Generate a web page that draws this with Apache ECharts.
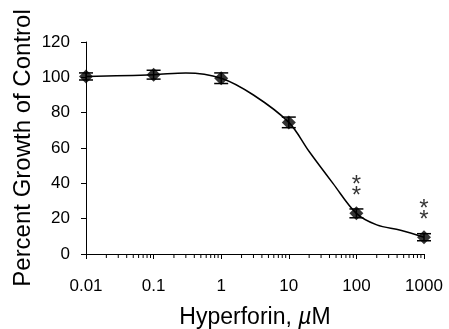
<!DOCTYPE html>
<html>
<head>
<meta charset="utf-8">
<script src="https://cdn.jsdelivr.net/npm/echarts@6/dist/echarts.min.js"></script>
<style>
  html, body {margin: 0; padding: 0; background: #fff;}
  #chart {width: 449px; height: 329px;}
</style>
</head>
<body>
<div id="chart"></div>
<script>
// measured points (mean +/- error)
const conc = [0.01, 0.1, 1, 10, 100, 1000];
const growth = [100.5, 101.5, 99.5, 74.5, 23, 9.5];
const errs = [2, 2.5, 3, 3, 2.5, 2];

// fitted curve
const fitConc = [0.01, 0.1, 0.3, 1, 3, 10, 20, 45, 100, 200, 450, 1000];
const fitGrowth = [100.5, 101.5, 102.5, 99.5, 90, 74.5, 58, 40, 23, 16.5, 13.5, 9.5];

// significance marks
const starConc = [100, 1000];
const starY = [36, 22];

const yTicks = [0, 20, 40, 60, 80, 100, 120];
const decades = [0.01, 0.1, 1, 10, 100];
const minorMult = [2, 3, 4, 5, 6, 7, 8, 9];

const FONT = '"Liberation Sans", Arial, sans-serif';

let minorTicks = [];
decades.forEach(d => minorMult.forEach(m => minorTicks.push([+(d * m).toPrecision(3), 0])));

const chart = echarts.init(document.getElementById('chart'), null, {renderer: 'canvas'});

chart.setOption({
  animation: false,
  backgroundColor: '#fff',
  grid: {left: 86, right: 25, top: 42, bottom: 75, containLabel: false, outerBoundsMode: 'none'},
  xAxis: {
    type: 'log',
    logBase: 10,
    min: 0.01,
    max: 1000,
    name: '{a|Hyperforin, }{b|µ}{a|M}',
    nameLocation: 'middle',
    nameGap: 52,
    nameMoveOverlap: false,
    nameTextStyle: {
      rich: {
        a: {fontFamily: FONT, fontSize: 23, color: '#000'},
        b: {fontFamily: FONT, fontSize: 23, color: '#000', fontStyle: 'italic'}
      }
    },
    axisLine: {lineStyle: {color: '#000', width: 1}},
    axisTick: {show: true, length: 5, inside: false, lineStyle: {color: '#000'}},
    axisLabel: {
      color: '#000', fontFamily: FONT, fontSize: 17, margin: 24,
      formatter: v => String(+v.toPrecision(3))
    },
    splitLine: {show: false}
  },
  yAxis: {
    type: 'value',
    min: 0,
    max: 120,
    interval: 20,
    name: 'Percent Growth of Control',
    nameLocation: 'middle',
    nameGap: 51,
    nameMoveOverlap: false,
    nameTextStyle: {fontFamily: FONT, fontSize: 24, color: '#000'},
    axisLine: {show: true, lineStyle: {color: '#000', width: 1}},
    axisTick: {show: true, length: 5, lineStyle: {color: '#000'}},
    axisLabel: {
      color: '#000', fontFamily: FONT, fontSize: 17, margin: 16,
      formatter: v => yTicks.includes(v) ? String(v) : ''
    },
    splitLine: {show: false}
  },
  series: [
    {
      // minor log ticks under the x axis
      type: 'custom',
      silent: true,
      data: minorTicks,
      renderItem: (params, api) => {
        const p = api.coord([api.value(0), 0]);
        return {
          type: 'line',
          shape: {x1: p[0], y1: p[1], x2: p[0], y2: p[1] + 4},
          style: {stroke: '#000', lineWidth: 1}
        };
      }
    },
    {
      type: 'line',
      data: fitConc.map((c, i) => [c, fitGrowth[i]]),
      smooth: 0.35,
      showSymbol: false,
      lineStyle: {color: '#000', width: 1.5},
      z: 2
    },
    {
      type: 'custom',
      data: conc.map((c, i) => [c, growth[i], errs[i]]),
      renderItem: (params, api) => {
        const x = api.value(0), y = api.value(1), e = api.value(2);
        const top = api.coord([x, y + e]);
        const bot = api.coord([x, y - e]);
        const w = 7;
        const st = {stroke: '#000', lineWidth: 1.5};
        return {
          type: 'group',
          children: [
            {type: 'line', shape: {x1: top[0], y1: top[1], x2: bot[0], y2: bot[1]}, style: st},
            {type: 'line', shape: {x1: top[0] - w, y1: top[1], x2: top[0] + w, y2: top[1]}, style: st},
            {type: 'line', shape: {x1: bot[0] - w, y1: bot[1], x2: bot[0] + w, y2: bot[1]}, style: st}
          ]
        };
      },
      z: 3
    },
    {
      type: 'scatter',
      data: conc.map((c, i) => [c, growth[i]]),
      symbol: 'diamond',
      symbolSize: 14,
      itemStyle: {color: '#000'},
      z: 4
    },
    {
      type: 'scatter',
      data: starConc.map((c, i) => [c, starY[i]]),
      symbolSize: 0,
      label: {
        show: true,
        position: 'inside',
        formatter: '*\n*',
        fontFamily: FONT,
        fontSize: 24,
        lineHeight: 11,
        color: '#000'
      },
      z: 5
    }
  ]
});
</script>
</body>
</html>
